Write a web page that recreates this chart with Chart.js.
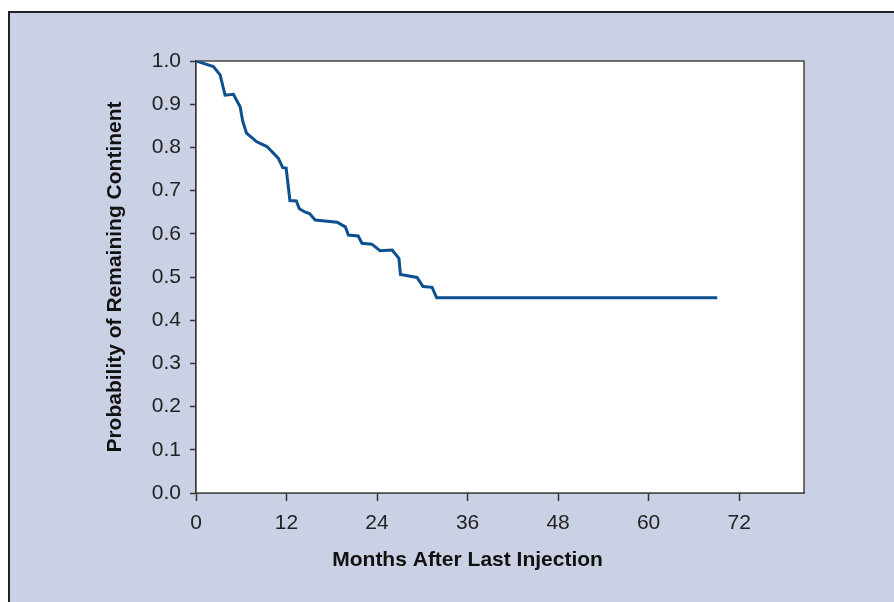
<!DOCTYPE html>
<html>
<head>
<meta charset="utf-8">
<script src="https://cdn.jsdelivr.net/npm/chart.js@4/dist/chart.umd.min.js"></script>
<style>
  html, body { margin: 0; padding: 0; background: #fff; }
  #frame {
    position: absolute; left: 8px; top: 11px; width: 900px; height: 600px;
    border-left: 2px solid #222; border-top: 2px solid #222;
    background: #cbd1e4;
  }
  #wrap { position: absolute; left: 0; top: 0; width: 894px; height: 602px; }
</style>
</head>
<body>
<div id="frame"></div>
<div id="wrap"><canvas id="chart"></canvas></div>
<script>
// Kaplan-Meier style curve
const months = [0, 2.3, 3.2, 3.85, 4.96, 5.85, 6.2, 6.7, 8.06, 9.4, 10.9, 11.5, 11.95, 12.45,
  13.3, 13.7, 14.5, 15.05, 15.8, 18.7, 19.8, 20.2, 21.5, 22.0, 23.3, 24.4, 26.0, 26.9, 27.1,
  29.3, 30.1, 31.3, 31.9, 69.1]
const probability = [1.0, 0.987, 0.968, 0.921, 0.923, 0.894, 0.86, 0.833, 0.813, 0.802, 0.775,
  0.753, 0.752, 0.677, 0.676, 0.658, 0.65, 0.647, 0.632, 0.627, 0.616, 0.597, 0.595, 0.578,
  0.576, 0.561, 0.5625, 0.543, 0.506, 0.499, 0.478, 0.476, 0.452, 0.452]
const xTicks = [0, 12, 24, 36, 48, 60, 72]
const xTitle = "Months After Last Injection"

const font = { family: "'Liberation Sans', Arial, sans-serif", size: 21 }

const plotFrame = {
  id: "plotFrame",
  beforeDatasetsDraw(chart) {
    const { ctx, chartArea: a } = chart
    ctx.save()
    ctx.fillStyle = "#fff"
    ctx.fillRect(a.left, a.top, a.right - a.left, a.bottom - a.top)
    ctx.strokeStyle = "#444"
    ctx.lineWidth = 1.5
    ctx.strokeRect(a.left, a.top, a.right - a.left, a.bottom - a.top)
    ctx.restore()
  },
  afterDraw(chart) {
    // x title is centred on the labelled 0-72 range, not on the whole axis
    const { ctx, scales: { x } } = chart
    const cx = (x.getPixelForValue(xTicks[0]) + x.getPixelForValue(xTicks[xTicks.length - 1])) / 2
    ctx.save()
    ctx.font = `bold ${font.size}px ${font.family}`
    ctx.fillStyle = "#111"
    ctx.textAlign = "center"
    ctx.textBaseline = "middle"
    ctx.fillText(xTitle, cx, x.bottom - 42)
    ctx.restore()
  }
}

new Chart(document.getElementById("chart"), {
  type: "line",
  data: {
    datasets: [{
      data: months.map((m, i) => ({ x: m, y: probability[i] })),
      borderColor: "#0d4f8f",
      borderWidth: 3,
      pointRadius: 0,
      tension: 0,
      fill: false
    }]
  },
  options: {
    responsive: true,
    maintainAspectRatio: false,
    animation: false,
    layout: { padding: { top: 61, right: 90, left: 0, bottom: 0 } },
    plugins: { legend: { display: false }, tooltip: { enabled: false } },
    scales: {
      x: {
        type: "linear",
        min: 0,
        max: 80.6,
        afterBuildTicks: s => { s.ticks = xTicks.map(v => ({ value: v })) },
        afterFit: s => { s.height = 109 },
        ticks: { font, color: "#222", padding: 10, maxRotation: 0 },
        grid: { drawOnChartArea: false, drawTicks: true, tickLength: 8, tickColor: "#333", tickWidth: 1.5 },
        border: { color: "#111", width: 1.5 },
        title: { display: false }
      },
      y: {
        min: 0,
        max: 1,
        afterFit: s => { s.width = 196 },
        ticks: { font, color: "#222", padding: 9, stepSize: 0.1, callback: v => v.toFixed(1) },
        grid: { drawOnChartArea: false, drawTicks: true, tickLength: 6, tickColor: "#333", tickWidth: 1.5 },
        border: { color: "#111", width: 1.5 },
        title: {
          display: true, text: "Probability of Remaining Continent", color: "#111",
          font: { ...font, weight: "bold" }, padding: { top: 103, bottom: 0 }
        }
      }
    }
  },
  plugins: [plotFrame]
})
</script>
</body>
</html>
